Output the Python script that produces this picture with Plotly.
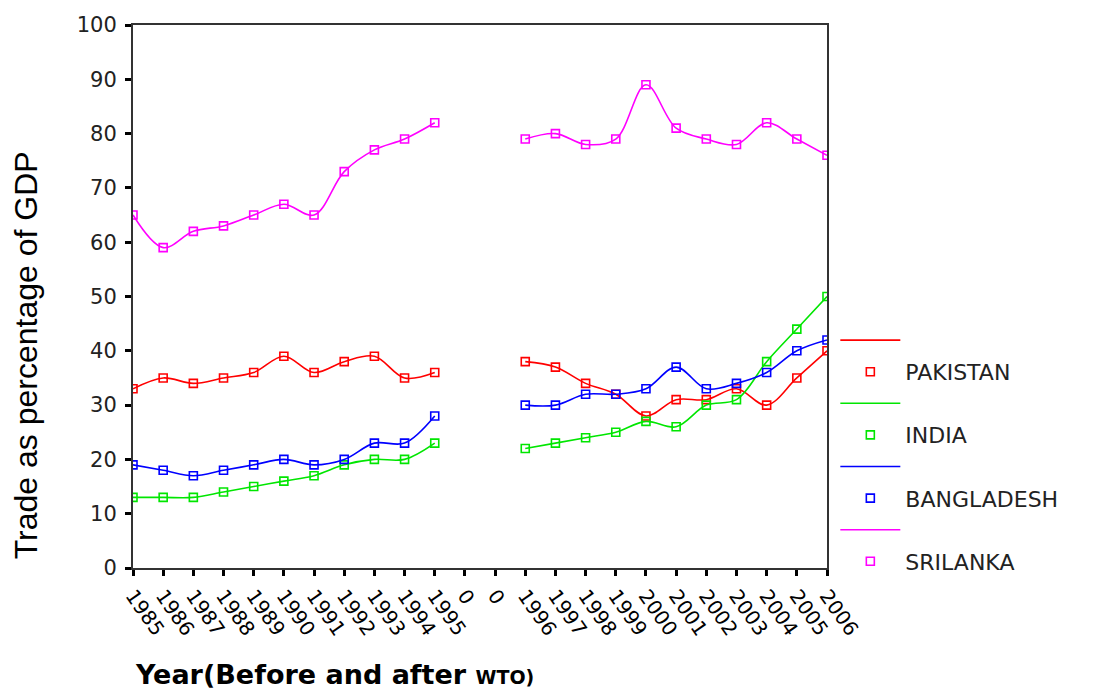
import plotly.graph_objects as go

# ---- data ----
year_labels = ["1985", "1986", "1987", "1988", "1989", "1990", "1991", "1992",
               "1993", "1994", "1995", "0", "0", "1996", "1997", "1998", "1999",
               "2000", "2001", "2002", "2003", "2004", "2005", "2006"]
positions = list(range(len(year_labels)))

pakistan = [33, 35, 34, 35, 36, 39, 36, 38, 39, 35, 36, None, None,
            38, 37, 34, 32, 28, 31, 31, 33, 30, 35, 40]
india = [13, 13, 13, 14, 15, 16, 17, 19, 20, 20, 23, None, None,
         22, 23, 24, 25, 27, 26, 30, 31, 38, 44, 50]
bangladesh = [19, 18, 17, 18, 19, 20, 19, 20, 23, 23, 28, None, None,
              30, 30, 32, 32, 33, 37, 33, 34, 36, 40, 42]
srilanka = [65, 59, 62, 63, 65, 67, 65, 73, 77, 79, 82, None, None,
            79, 80, 78, 79, 89, 81, 79, 78, 82, 79, 76]

series = [("PAKISTAN", pakistan, "#FF0000"),
          ("INDIA", india, "#00E600"),
          ("BANGLADESH", bangladesh, "#0000FF"),
          ("SRILANKA", srilanka, "#FF00FF")]

y_ticks = list(range(0, 101, 10))

fig = go.Figure()
for name, vals, col in series:
    fig.add_trace(go.Scatter(
        x=positions, y=vals, mode="lines", name=" ",
        line=dict(color=col, width=1.6, shape="spline", smoothing=1.0),
        connectgaps=False, hoverinfo="skip"))
    fig.add_trace(go.Scatter(
        x=positions, y=vals, mode="markers", name=name,
        marker=dict(symbol="square-open", size=8, color=col,
                    line=dict(color=col, width=1.6))))

fig.update_layout(
    width=1098, height=689,
    margin=dict(l=133, r=271, t=25, b=121),
    paper_bgcolor="white", plot_bgcolor="white",
    font=dict(family="DejaVu Sans", color="black"),
    showlegend=True,
    legend=dict(x=1.012, y=0.458, xanchor="left", yanchor="top",
                traceorder="normal", itemwidth=60,
                font=dict(family="DejaVu Sans", size=22, color="#222"),
                bgcolor="rgba(0,0,0,0)", borderwidth=0),
    xaxis=dict(range=[0, 23], tickmode="array", tickvals=positions,
               ticktext=year_labels, tickangle=55,
               tickfont=dict(family="DejaVu Sans", size=20, color="black"),
               ticks="outside", ticklen=6, tickwidth=3, tickcolor="black",
               showline=True, linecolor="#333", linewidth=2, mirror=True,
               showgrid=False, zeroline=False, fixedrange=True),
    yaxis=dict(range=[0, 100], tickmode="array", tickvals=y_ticks,
               tickfont=dict(family="DejaVu Sans", size=21, color="#222"),
               ticks="outside", ticklen=6, tickwidth=3, tickcolor="black",
               ticklabelstandoff=4,
               showline=True, linecolor="#333", linewidth=2, mirror=True,
               showgrid=False, zeroline=False, fixedrange=True),
    annotations=[
        dict(text="Trade as percentage of GDP", xref="paper", yref="paper",
             x=-0.154, y=0.392, xanchor="center", yanchor="middle",
             textangle=-90, showarrow=False,
             font=dict(family="Liberation Sans", size=32, color="black")),
        dict(text='<b>Year(Before and after <span style="font-size:19px">WTO)</span></b>',
             xref="paper", yref="paper", x=0.0, y=-0.196,
             xanchor="left", yanchor="middle", showarrow=False,
             font=dict(family="DejaVu Sans", size=27, color="black")),
    ],
)

fig.write_html("out.html", config={"displayModeBar": False},
               post_script="document.body.style.margin='0';")
